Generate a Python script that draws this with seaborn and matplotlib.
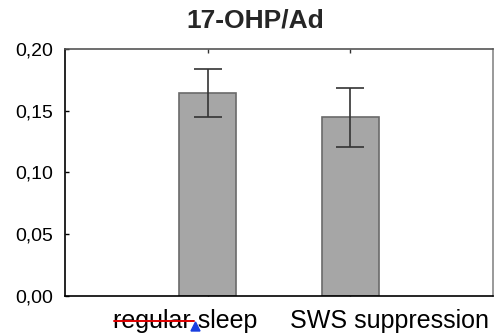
import matplotlib
matplotlib.use("Agg")
import matplotlib.pyplot as plt
import matplotlib.transforms as mtransforms
from matplotlib.lines import Line2D
from matplotlib.patches import Polygon
import numpy as np
import pandas as pd
import seaborn as sns

# Group means and their error half-widths
groups = ["regular sleep", "SWS suppression"]
means = [0.165, 0.145]
errors = [0.0195, 0.024]
yticks = [0.00, 0.05, 0.10, 0.15, 0.20]
ytick_labels = ["0,00", "0,05", "0,10", "0,15", "0,20"]
title = "17-OHP/Ad"

sns.set_theme(style="white")
plt.rcParams["font.family"] = ["Liberation Sans", "DejaVu Sans"]

fig = plt.figure(figsize=(4.95, 3.33), dpi=100)
ax = fig.add_axes([0.1323, 0.1126, 0.995 - 0.1323, 0.8514 - 0.1126])

df = pd.DataFrame({"group": groups, "value": means})
sns.barplot(data=df, x="group", y="value", ax=ax, color="#a6a6a6",
            saturation=1, width=0.4, edgecolor="#6a6a6a", linewidth=1.2,
            errorbar=None)

xpos = np.arange(len(groups))
ax.errorbar(xpos, means, yerr=errors, fmt="none", ecolor="#333333",
            elinewidth=1.2, capsize=10, capthick=1.2, zorder=5)

ax.set_xlim(-1, 2)
ax.set_ylim(0, 0.2)
ax.set_yticks(yticks)
ax.set_yticklabels(ytick_labels, fontsize=14)
ax.set_xlabel("")
ax.set_ylabel("")
ax.set_xticks(xpos)
ax.set_xticklabels(groups, fontsize=18)

ax.tick_params(axis="y", direction="in", length=3, width=1, color="black",
               left=True, right=False, pad=9, labelcolor="black")
ax.tick_params(axis="x", direction="in", length=3, width=1, color="#333333",
               top=True, bottom=True, pad=10, labelcolor="black")

# shift the category labels sideways as in the layout
shifts = [-22.5, 39.5]
for lab, dx in zip(ax.get_xticklabels(), shifts):
    off = mtransforms.ScaledTranslation(dx / 100, 0, fig.dpi_scale_trans)
    lab.set_transform(lab.get_transform() + off)

for side, col in [("left", "black"), ("bottom", "black"),
                  ("top", "#555555"), ("right", "#888888")]:
    ax.spines[side].set_visible(True)
    ax.spines[side].set_color(col)
    ax.spines[side].set_linewidth(1.2)

fig.text(255 / 495, 1 - 20 / 333, title, ha="center", va="center",
         fontsize=19, fontweight="bold")

# proofing marks under the first label
fig.add_artist(Line2D([114 / 495, 194 / 495], [1 - 321 / 333, 1 - 321 / 333],
                      color="#e00000", linewidth=1.4))
fig.add_artist(Polygon([[191 / 495, 1 - 331 / 333], [200 / 495, 1 - 331 / 333],
                        [195.5 / 495, 1 - 322 / 333]], closed=True,
                       color="#1a3fe0", transform=fig.transFigure))

fig.savefig("out.png", dpi=100)
